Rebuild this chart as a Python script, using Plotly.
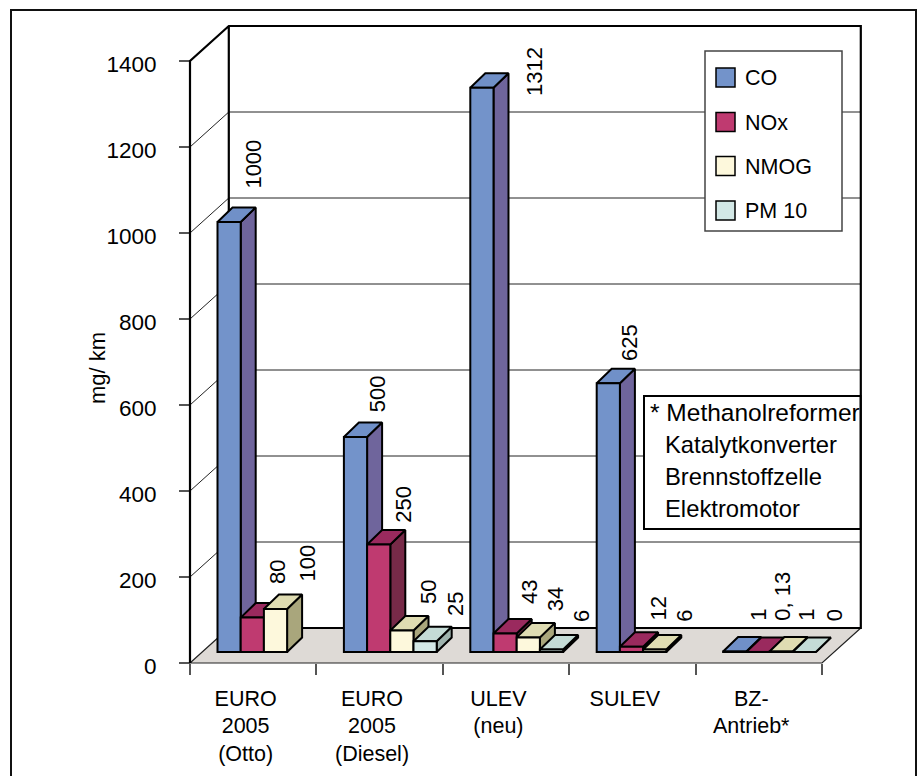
import plotly.graph_objects as go

# ---------- data ----------
categories = ["EURO<br>2005<br>(Otto)", "EURO<br>2005<br>(Diesel)", "ULEV<br>(neu)", "SULEV", "BZ-<br>Antrieb*"]
series_names = ["CO", "NOx", "NMOG", "PM 10"]
co = [1000, 500, 1312, 625, 1]
nox = [80, 250, 43, 12, 0.13]
nmog = [100, 50, 34, 6, 1]
pm10 = [None, 25, 6, None, 0]
y_ticks = [0, 200, 400, 600, 800, 1000, 1200, 1400]
note_lines = ["* Methanolreformer", "Katalytkonverter", "Brennstoffzelle", "Elektromotor"]

# ---------- styling / projection ----------
W, H = 919, 776
X0, Y0 = 190, 663            # pixel of the axes origin
PX_CAT = 126.4               # pixels per category
PX_VAL = 86 / 200            # pixels per mg/km
FONT = "Liberation Sans"
FRONT = ["#7393ca", "#bf3a70", "#fdf8dc", "#d3e8e6"]
TOP = ["#7090c8", "#9a2a5e", "#dfdcb2", "#c4dbd6"]
SIDE = ["#6f659c", "#772a48", "#a9a67c", "#9fb3ae"]
FLOOR = "#dedad6"


def dx(px):
    return px / PX_CAT


def dy(px):
    return px / PX_VAL


def px_x(px):
    return (px - X0) / PX_CAT


def px_y(px):
    return (Y0 - px) / PX_VAL


def fx(px):
    return px / W


def fy(px):
    return 1 - px / H


WALL_DX, WALL_DY = dx(38.8), dy(35)      # depth of the whole chart box
BAR_DX, BAR_DY = dx(15), dy(14.5)        # depth of a bar
BASE = dy(11)                            # bars stand this far back on the floor
BAR_W = dx(23.2)
GROUP_OFF = dx(27.5)
N_CAT = len(categories)

# label nudges in pixels, one per bar (right of bar centre, above bar top)
label_dx = [[24, 24.7, 31.5, 0], [22.3, 24, 26, 29.7], [52.7, 24.5, 27.3, 29.8], [21, 27, 30.4, 0], [23.5, 24.3, 25, 30]]
label_dy = [[32, 32.6, 26, 0], [24, 21, 25.5, 24], [-9, 28, 24.7, 26.7], [21, 24.8, 26.7, 0], [30, 30, 30, 30]]

fig = go.Figure()

# ---------- walls and floor ----------
floor_x = [0, N_CAT, N_CAT + WALL_DX, WALL_DX, 0]
floor_y = [0, 0, WALL_DY, WALL_DY, 0]
fig.add_trace(go.Scatter(x=floor_x, y=floor_y, mode="none", fill="toself", fillcolor=FLOOR,
                         hoverinfo="skip", showlegend=False, zorder=0))

grid_x, grid_y = [], []
for t in y_ticks[1:-1]:
    grid_x += [0, WALL_DX, N_CAT + WALL_DX, None]
    grid_y += [t, t + WALL_DY, t + WALL_DY, None]
fig.add_trace(go.Scatter(x=grid_x, y=grid_y, mode="lines", line=dict(color="#222222", width=1),
                         hoverinfo="skip", showlegend=False, zorder=1))

top = y_ticks[-1]
# floor edges, thin
fig.add_trace(go.Scatter(x=[WALL_DX, 0, N_CAT, N_CAT + WALL_DX], y=[WALL_DY, 0, 0, WALL_DY], mode="lines",
                         line=dict(color="#222222", width=1.2), hoverinfo="skip", showlegend=False, zorder=1))
# box outline, heavy
fig.add_trace(go.Scatter(
    x=[0, 0, WALL_DX, N_CAT + WALL_DX, N_CAT + WALL_DX, WALL_DX, WALL_DX],
    y=[0, top, top + WALL_DY, top + WALL_DY, WALL_DY, WALL_DY, top + WALL_DY],
    mode="lines", line=dict(color="#000000", width=2.2), hoverinfo="skip", showlegend=False, zorder=1))

# ---------- bars ----------
all_series = [co, nox, nmog, pm10]
annotations = []
for s, (name, vals) in enumerate(zip(series_names, all_series)):
    xs, ys, sx, sy, tx, ty = [], [], [], [], [], []
    for g, v in enumerate(vals):
        if v is None:
            continue
        left = g + GROUP_OFF + s * BAR_W
        right = left + BAR_W
        h = BASE + v
        xs.append(left + BAR_W / 2)
        ys.append(v)
        sx += [right, right + BAR_DX, right + BAR_DX, right, right, None]
        sy += [BASE, BASE + BAR_DY, h + BAR_DY, h, BASE, None]
        tx += [left, right, right + BAR_DX, left + BAR_DX, left, None]
        ty += [h, h, h + BAR_DY, h + BAR_DY, h, None]
        annotations.append(dict(
            x=left + BAR_W / 2, y=h, xref="x", yref="y",
            text=str(v).replace(".", ", "), textangle=-90, showarrow=False,
            xanchor="center", yanchor="bottom", borderpad=0,
            xshift=label_dx[g][s], yshift=label_dy[g][s],
            font=dict(family=FONT, size=22, color="#000000")))
    z = 2 + 2 * s
    line = dict(color="#000000", width=2)
    fig.add_trace(go.Scatter(x=sx, y=sy, mode="lines", fill="toself", fillcolor=SIDE[s], line=line,
                             hoverinfo="skip", showlegend=False, zorder=z))
    fig.add_trace(go.Scatter(x=tx, y=ty, mode="lines", fill="toself", fillcolor=TOP[s], line=line,
                             hoverinfo="skip", showlegend=False, zorder=z))
    fig.add_trace(go.Bar(x=xs, y=ys, base=BASE, width=BAR_W, name=name,
                         marker=dict(color=FRONT[s], line=line), showlegend=False, zorder=z + 1))

# ---------- frame, legend box and note box ----------
shapes = [
    dict(type="rect", xref="paper", yref="paper", x0=fx(11), x1=fx(916), y0=fy(10), y1=fy(790),
         line=dict(color="#111111", width=2), layer="below"),
    dict(type="rect", xref="paper", yref="paper", x0=fx(705), x1=fx(842), y0=fy(51), y1=fy(231),
         line=dict(color="#444444", width=1.5), fillcolor="#ffffff", layer="above"),
    dict(type="rect", xref="paper", yref="paper", x0=fx(644), x1=fx(860.5), y0=fy(396), y1=fy(529),
         line=dict(color="#000000", width=2), fillcolor="#ffffff", layer="above"),
]
legend_y = [77.5, 122, 166, 210.5]
for name, color, ly in zip(series_names, FRONT, legend_y):
    shapes.append(dict(type="rect", xref="paper", yref="paper", x0=fx(716), x1=fx(735), y0=fy(ly - 9.5), y1=fy(ly + 9.5),
                       line=dict(color="#000000", width=1.5), fillcolor=color, layer="above"))
    annotations.append(dict(x=fx(743), y=fy(ly + 1), xref="paper", yref="paper", text=name, showarrow=False,
                            xanchor="left", yanchor="middle", font=dict(family=FONT, size=21.5, color="#000000")))

note_x = [648, 662.5, 662.5, 662.5]
note_y = [412, 444, 476, 508]
note_size = [24.5, 23.8, 23.8, 23.8]
for line_text, nx, ny, ns in zip(note_lines, note_x, note_y, note_size):
    annotations.append(dict(x=fx(nx), y=fy(ny), xref="paper", yref="paper", text=line_text, showarrow=False,
                            xanchor="left", yanchor="middle", font=dict(family=FONT, size=ns, color="#000000")))

annotations.append(dict(x=fx(97), y=fy(368), xref="paper", yref="paper", text="mg/ km", textangle=-90,
                        showarrow=False, xanchor="center", yanchor="middle",
                        font=dict(family=FONT, size=22, color="#000000")))

fig.update_layout(
    width=W, height=H, autosize=False, margin=dict(l=0, r=0, t=0, b=0, pad=0),
    paper_bgcolor="#ffffff", plot_bgcolor="#ffffff", showlegend=False, barmode="overlay",
    shapes=shapes, annotations=annotations,
    font=dict(family=FONT, size=21, color="#000000"),
    xaxis=dict(
        range=[px_x(0), px_x(W)], domain=[0, 1], anchor="free", position=fy(Y0),
        showgrid=False, zeroline=False, showline=False,
        tickmode="array", tickvals=[i + 0.44 for i in range(N_CAT)], ticktext=categories,
        ticks="", ticklabelstandoff=20, tickangle=0,
        minor=dict(tickmode="array", tickvals=list(range(N_CAT + 1)), ticks="outside", ticklen=11,
                   tickwidth=1.5, tickcolor="#555555"),
        tickfont=dict(family=FONT, size=21.5, color="#000000"),
        fixedrange=True),
    yaxis=dict(
        range=[px_y(H), px_y(0)], domain=[0, 1], anchor="free", position=fx(X0),
        showgrid=False, zeroline=False, showline=False,
        tickmode="array", tickvals=y_ticks, ticks="outside", ticklen=11, tickwidth=1.5, tickcolor="#555555",
        ticklabelstandoff=18, ticklabelshift=3,
        tickfont=dict(family=FONT, size=22.5, color="#000000"),
        fixedrange=True),
)

fig.write_html("out.html", config={"displayModeBar": False},
               post_script="document.body.style.margin='0';document.body.style.overflow='hidden';")
